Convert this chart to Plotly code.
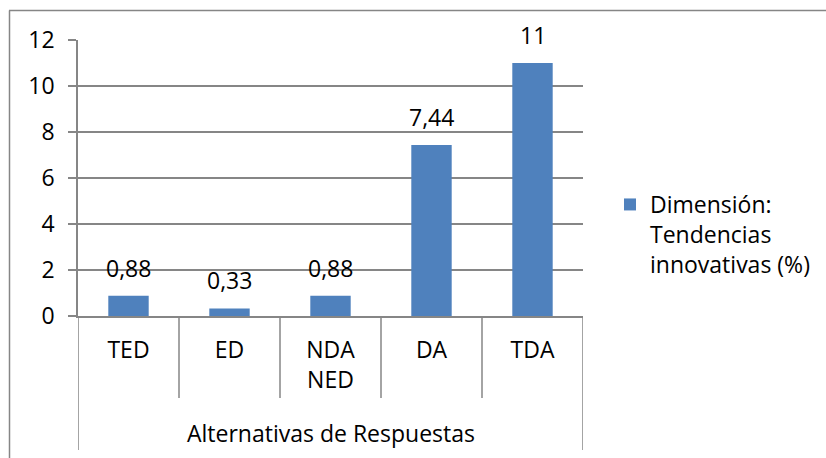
import plotly.graph_objects as go

categories = ["TED", "ED", "NDA<br>NED", "DA", "TDA"]
values = [0.88, 0.33, 0.88, 7.44, 11]
group_label = "Alternativas de Respuestas"
series_name = "Dimensión:<br>Tendencias<br>innovativas (%)"
y_ticks = [0, 2, 4, 6, 8, 10, 12]

W, H = 826, 458
L, R, T, B = 78, 243, 40, 142
PH = H - T - B
PW = W - L - R
GRAY = "#868686"
FONT = "Open Sans"
FS = 23

def py(pix):
    return (H - B - pix) / PH

def px(pix):
    return (pix - L) / PW

fig = go.Figure()
fig.add_trace(go.Bar(
    x=list(range(len(categories))), y=values, name=series_name,
    marker=dict(color="#4F81BD", line=dict(width=0)),
))

annotations = []
for i, v in enumerate(values):
    annotations.append(dict(
        x=i, y=v, xref="x", yref="y", text=f"{v:g}".replace(".", ","),
        showarrow=False, yanchor="bottom", yshift=10,
        font=dict(family=FONT, size=FS, color="black"),
    ))
annotations.append(dict(
    x=(len(categories) - 1) / 2, y=py(433), xref="x", yref="paper",
    text=group_label, showarrow=False, yanchor="middle",
    font=dict(family=FONT, size=FS, color="black"),
))

shapes = []
n = len(categories)
for i in range(n + 1):
    bottom = py(450) if i in (0, n) else py(398)
    shapes.append(dict(type="line", xref="x", yref="paper",
                       x0=i - 0.5, x1=i - 0.5, y0=0, y1=bottom,
                       line=dict(color=GRAY, width=1.5)))
# outer chart border (top and left)
shapes.append(dict(type="line", xref="paper", yref="paper",
                   x0=px(9), x1=px(830), y0=py(10.5), y1=py(10.5),
                   line=dict(color=GRAY, width=1.5)))
shapes.append(dict(type="line", xref="paper", yref="paper",
                   x0=px(9.5), x1=px(9.5), y0=py(10.5), y1=py(470),
                   line=dict(color=GRAY, width=1.5)))

fig.update_layout(
    width=W, height=H,
    margin=dict(l=L, r=R, t=T, b=B, pad=0, autoexpand=False),
    paper_bgcolor="white", plot_bgcolor="white",
    font=dict(family=FONT, size=FS, color="black"),
    bargap=0.6,
    showlegend=True,
    legend=dict(x=px(610), y=py(183), xanchor="left", yanchor="top",
                valign="top", font=dict(family=FONT, size=FS, color="black"),
                bgcolor="rgba(0,0,0,0)", itemclick=False),
    xaxis=dict(
        range=[-0.5, n - 0.5], tickmode="array",
        tickvals=list(range(n)), ticktext=categories,
        showline=True, linecolor=GRAY, linewidth=1.5,
        showgrid=False, ticks="", ticklabelstandoff=13,
        tickfont=dict(family=FONT, size=FS, color="black"),
        fixedrange=True, automargin=False,
    ),
    yaxis=dict(
        range=[0, 12], tickmode="array", tickvals=y_ticks,
        showline=True, linecolor=GRAY, linewidth=1.5,
        showgrid=True, gridcolor=GRAY, gridwidth=1.5,
        ticks="outside", ticklen=8, tickcolor=GRAY, tickwidth=1.5,
        ticklabelstandoff=9, zeroline=False,
        tickfont=dict(family=FONT, size=FS, color="black"),
        fixedrange=True, automargin=False,
    ),
    annotations=annotations,
    shapes=shapes,
)

fig.write_html(
    "out.html",
    config={"displayModeBar": False},
    post_script="document.body.style.margin='0';document.body.style.overflow='hidden';",
)
